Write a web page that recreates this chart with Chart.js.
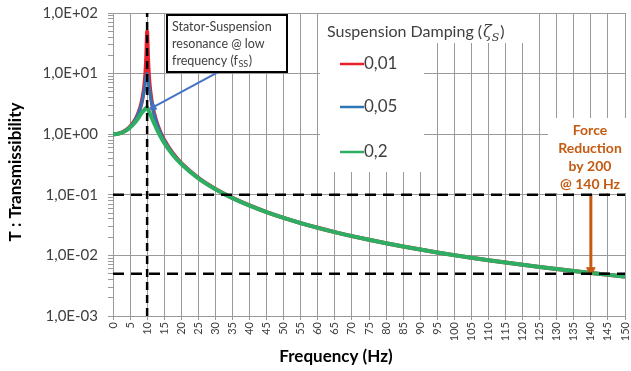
<!DOCTYPE html>
<html lang="en">
<head>
  <meta charset="UTF-8">
  <title>Transmissibility vs Frequency</title>
  <script src="https://cdn.jsdelivr.net/npm/chart.js"></script>
  <style>
    html, body {
      margin: 0;
      padding: 0;
      background-color: #FFFFFF;
    }
    #wrap {
      width: 631px;
      height: 371px;
      position: relative;
    }
  </style>
</head>
<body>

<div id="wrap">
  <canvas id="tChart" width="631" height="371"></canvas>
</div>

<script>
  // frequency points (Hz)
  const freqHz = [0, 1, 2, 3, 4, 5, 6, 7, 8, 8.5, 9, 9.25, 9.5, 9.75, 9.9, 10, 10.1, 10.25, 10.5, 10.75, 11,
    11.5, 12, 13, 14, 15, 17.5, 20, 25, 30, 35, 40, 45, 50, 55, 60, 65, 70, 75, 80, 85, 90, 95,
    100, 105, 110, 115, 120, 125, 130, 135, 140, 145, 150];

  // transmissibility for each suspension damping
  const tDamp001 = [1.0000, 1.0101, 1.0417, 1.0989, 1.1905, 1.3333, 1.5625, 1.9608, 2.7778, 3.597, 5.240,
    6.870, 10.07, 18.84, 35.62, 50.00, 35.09, 18.31, 9.558, 6.365, 4.736, 3.093, 2.269, 1.448, 1.041,
    0.7998, 0.4848, 0.3333, 0.1905, 0.1250, 0.08889, 0.06667, 0.05195, 0.04167, 0.03419, 0.02857,
    0.02424, 0.02083, 0.01810, 0.01587, 0.01404, 0.01250, 0.01120, 0.01010, 0.009153, 0.008333,
    0.007619, 0.006993, 0.006441, 0.005952, 0.005517, 0.005128, 0.004779, 0.004464];

  const tDamp005 = [1.0000, 1.0100, 1.0414, 1.0983, 1.1891, 1.3304, 1.5557, 1.9426, 2.7117, 3.446, 4.757,
    5.832, 7.346, 9.150, 9.903, 10.00, 9.711, 8.747, 6.815, 5.287, 4.218, 2.921, 2.193, 1.424, 1.031,
    0.7943, 0.4831, 0.3326, 0.1903, 0.1249, 0.08885, 0.06664, 0.05194, 0.04166, 0.03419, 0.02857,
    0.02424, 0.02083, 0.01810, 0.01587, 0.01403, 0.01250, 0.01120, 0.01010, 0.009153, 0.008333,
    0.007619, 0.006993, 0.006441, 0.005952, 0.005517, 0.005128, 0.004779, 0.004464];

  const tDamp02 = [1.0000, 1.0093, 1.0381, 1.0895, 1.1695, 1.2883, 1.4630, 1.7188, 2.0761, 2.279, 2.457,
    2.540, 2.640, 2.720, 2.750, 2.740, 2.700, 2.600, 2.420, 2.230, 2.070, 1.780, 1.536, 1.157, 0.8998,
    0.7212, 0.4591, 0.3221, 0.1871, 0.1236, 0.08821, 0.06629, 0.05172, 0.04152, 0.03409, 0.02851,
    0.02419, 0.02080, 0.01807, 0.01585, 0.01402, 0.01249, 0.01119, 0.01009, 0.009147, 0.008328,
    0.007614, 0.006989, 0.006438, 0.005950, 0.005515, 0.005126, 0.004777, 0.004462];

  const dampLabels = ['0,01', '0,05', '0,2'];

  // reference lines
  const resonanceHz = 10;
  const refLevels = [0.1, 0.005];
  const freqRange = [0, 150];
  const tRange = [0.001, 100];

  // annotation arrows [x, y] start -> end
  const forceArrow = [[140, 0.1], [140, 0.0057]];
  const statorArrow = [[32, 11.5], [11.8, 2.8]];

  const colRed = '#E8202A';
  const colBlue = '#2E75B6';
  const colGreen = '#2DAE62';
  const colOrange = '#C55A11';
  const gridCol = '#9A9A9A';
  const txtCol = '#404040';

  function pts(ys) {
    return freqHz.map((f, i) => ({ x: f, y: ys[i] }));
  }

  function isDecade(v) {
    const l = Math.log10(v);
    return Math.abs(l - Math.round(l)) < 1e-9;
  }

  function fmtSci(v) {
    const parts = v.toExponential(1).split('e');
    const n = parseInt(parts[1]);
    return parts[0].replace('.', ',') + 'E' + (n < 0 ? '-' : '+') + String(Math.abs(n)).padStart(2, '0');
  }

  const dashed = {
    borderColor: '#000000',
    borderWidth: 2.5,
    pointRadius: 0,
    tension: 0,
    order: 0
  };

  // legend, text boxes and axis titles drawn on the canvas
  const overlay = {
    id: 'overlay',
    beforeDatasetsDraw(chart) {
      const ctx = chart.ctx;
      ctx.save();
      ctx.fillStyle = '#FFFFFF';
      ctx.fillRect(320, 14, 214, 29);
      ctx.fillRect(320, 43, 104, 129);
      ctx.fillRect(548, 118, 78, 75);

      // legend
      ctx.fillStyle = txtCol;
      ctx.textBaseline = 'alphabetic';
      ctx.textAlign = 'left';
      ctx.font = '16px Lato';
      const title = 'Suspension Damping (';
      ctx.fillText(title, 327, 37);
      let x = 327 + ctx.measureText(title).width;
      ctx.font = 'italic 16px "DejaVu Serif"';
      ctx.fillText('ζ', x + 1, 37);
      x += ctx.measureText('ζ').width + 1;
      ctx.font = 'italic 11px "DejaVu Serif"';
      ctx.fillText('S', x, 41);
      x += ctx.measureText('S').width + 1;
      ctx.font = '16px Lato';
      ctx.fillText(')', x, 37);

      const cols = [colRed, colBlue, colGreen];
      const ys = [64, 107, 152];
      ctx.font = '17px Lato';
      ctx.textBaseline = 'middle';
      dampLabels.forEach((lab, i) => {
        ctx.strokeStyle = cols[i];
        ctx.lineWidth = 2.5;
        ctx.beginPath();
        ctx.moveTo(340, ys[i]);
        ctx.lineTo(364, ys[i]);
        ctx.stroke();
        ctx.fillStyle = txtCol;
        ctx.fillText(lab, 364, ys[i]);
      });

      // force reduction text
      ctx.fillStyle = colOrange;
      ctx.font = 'bold 14px Lato';
      ctx.textAlign = 'center';
      ['Force', 'Reduction', 'by 200', '@ 140 Hz'].forEach((s, i) => {
        ctx.fillText(s, 590, 130 + i * 18);
      });
      ctx.restore();
    },
    afterDatasetsDraw(chart) {
      const ctx = chart.ctx;
      ctx.save();
      // stator box
      ctx.fillStyle = '#FFFFFF';
      ctx.fillRect(167, 15, 120, 57);
      ctx.strokeStyle = '#000000';
      ctx.lineWidth = 2;
      ctx.strokeRect(167, 15, 120, 57);
      ctx.fillStyle = txtCol;
      ctx.font = '12.5px Lato';
      ctx.textAlign = 'left';
      ctx.textBaseline = 'middle';
      ctx.fillText('Stator-Suspension', 172, 27);
      ctx.fillText('resonance @ low', 172, 44);
      const f = 'frequency (f';
      ctx.fillText(f, 172, 61);
      let x = 172 + ctx.measureText(f).width;
      ctx.font = '9px Lato';
      ctx.fillText('SS', x + 0.5, 64);
      x += ctx.measureText('SS').width + 1;
      ctx.font = '12.5px Lato';
      ctx.fillText(')', x, 61);

      // axis titles
      ctx.fillStyle = '#000000';
      ctx.font = 'bold 17px Lato';
      ctx.textAlign = 'center';
      ctx.fillText('Frequency (Hz)', 336, 357);
      ctx.translate(16, 172);
      ctx.rotate(-Math.PI / 2);
      ctx.fillText('T : Transmissibility', 0, 0);
      ctx.restore();
    }
  };

  const ctx = document.getElementById('tChart').getContext('2d');
  const chart = new Chart(ctx, {
    type: 'line',
    data: {
      datasets: [
        Object.assign({ data: [{ x: resonanceHz, y: tRange[0] }, { x: resonanceHz, y: tRange[1] }], borderDash: [8, 5] }, dashed),
        Object.assign({ data: [{ x: freqRange[0], y: refLevels[0] }, { x: freqRange[1], y: refLevels[0] }], borderDash: [11, 7] }, dashed),
        Object.assign({ data: [{ x: freqRange[0], y: refLevels[1] }, { x: freqRange[1], y: refLevels[1] }], borderDash: [11, 7] }, dashed),
        {
          label: dampLabels[0],
          data: pts(tDamp001),
          borderColor: colRed,
          borderWidth: 4,
          pointRadius: 0,
          cubicInterpolationMode: 'monotone',
          order: 5
        },
        {
          label: dampLabels[1],
          data: pts(tDamp005),
          borderColor: colBlue,
          borderWidth: 3,
          pointRadius: 0,
          cubicInterpolationMode: 'monotone',
          order: 4
        },
        {
          label: dampLabels[2],
          data: pts(tDamp02),
          borderColor: colGreen,
          borderWidth: 4,
          pointRadius: 0,
          cubicInterpolationMode: 'monotone',
          order: 3
        },
        {
          data: forceArrow.map(p => ({ x: p[0], y: p[1] })),
          borderColor: colOrange,
          backgroundColor: colOrange,
          borderWidth: 3,
          pointStyle: 'triangle',
          pointRadius: [0, 5],
          pointRotation: 180,
          pointBorderWidth: 1,
          order: 1
        },
        {
          data: statorArrow.map(p => ({ x: p[0], y: p[1] })),
          borderColor: '#4472C4',
          backgroundColor: '#4472C4',
          borderWidth: 2,
          pointStyle: 'triangle',
          pointRadius: [0, 4],
          pointRotation: 242,
          pointBorderWidth: 1,
          order: 1
        }
      ]
    },
    options: {
      responsive: false,
      animation: false,
      layout: {
        padding: { left: 0, right: 4, top: 13, bottom: 0 }
      },
      plugins: {
        legend: { display: false },
        tooltip: { enabled: false }
      },
      scales: {
        x: {
          type: 'linear',
          min: freqRange[0],
          max: freqRange[1],
          afterFit(scale) {
            scale.height = 55;
            scale.paddingLeft = 0;
            scale.paddingRight = 0;
          },
          border: { color: gridCol },
          grid: { color: gridCol, tickLength: 4 },
          ticks: {
            stepSize: 5,
            autoSkip: false,
            minRotation: 90,
            maxRotation: 90,
            padding: 2,
            color: txtCol,
            font: { family: 'Lato', size: 11 }
          }
        },
        y: {
          type: 'logarithmic',
          min: tRange[0],
          max: tRange[1],
          afterFit(scale) {
            scale.width = 113;
            scale.paddingTop = 0;
            scale.paddingBottom = 0;
          },
          afterBuildTicks(scale) {
            const t = [];
            for (let e = -3; e <= 2; e++) {
              for (let m = 1; m <= 9; m++) {
                const v = parseFloat(m + 'e' + e);
                if (v <= tRange[1]) t.push({ value: v, major: m === 1 });
              }
            }
            scale.ticks = t;
          },
          border: { color: gridCol },
          grid: {
            color: c => (c.tick && isDecade(c.tick.value)) ? gridCol : 'rgba(0,0,0,0)',
            tickColor: gridCol,
            tickLength: 5
          },
          ticks: {
            autoSkip: false,
            padding: 10,
            color: txtCol,
            font: { family: 'Lato', size: 15 },
            callback: v => isDecade(v) ? fmtSci(v) : ''
          }
        }
      }
    },
    plugins: [overlay]
  });
</script>

</body>
</html>
